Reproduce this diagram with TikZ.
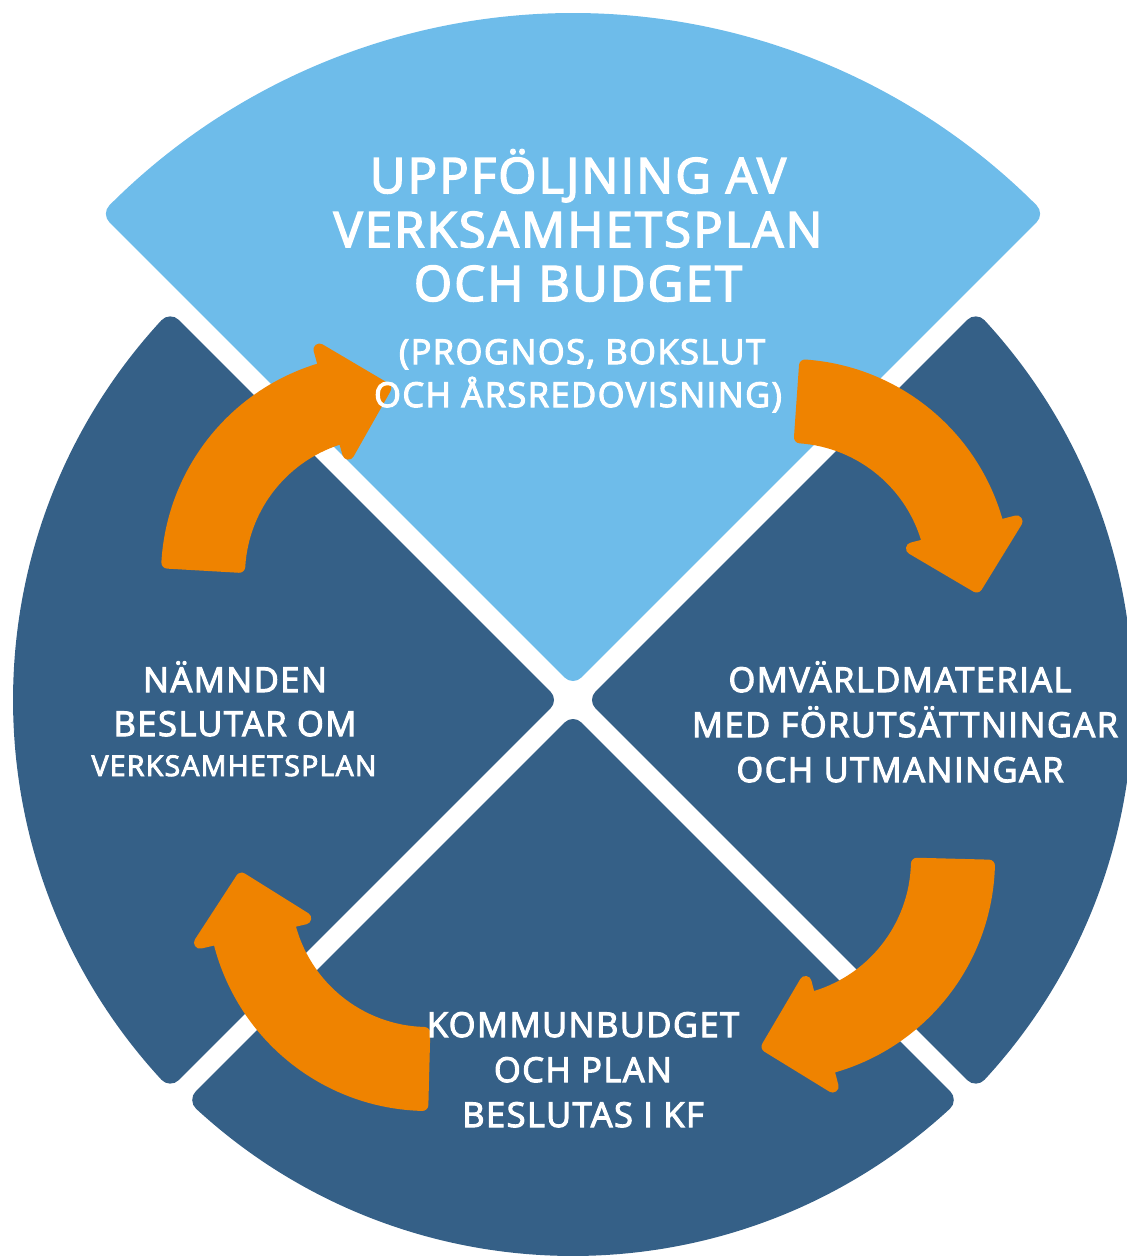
\documentclass[tikz,border=0pt]{standalone}
\usepackage{fontspec}
\usepackage{tikz}
\usetikzlibrary{calc}
\setmainfont{Open Sans}
\newfontfamily\labfont{Open Sans}[LetterSpace=4.5, FakeBold=3.2]
\definecolor{lightsky}{RGB}{110,188,234}
\definecolor{darksea}{RGB}{53,96,135}
\definecolor{turnorange}{RGB}{239,131,0}
\tikzstyle{lab}=[text=white, anchor=base, inner sep=0pt, font=\labfont\fontsize{9.76}{12}\selectfont]
\tikzstyle{biglab}=[lab, font=\labfont\fontsize{13.9}{16}\selectfont]
\tikzstyle{smalllab}=[lab, font=\labfont\fontsize{8.1}{10}\selectfont]
% #1 colour, #2 bisector, #3 shift of arc centre, #4 radius
\newcommand{\wedgePiece}[4]{
	\pgfmathsetmacro\gapw{0.22}
	\pgfmathsetmacro\radw{(#4-12)/100}
	\pgfmathsetmacro\radp{#4-12}
	\pgfmathsetmacro\ew{#3/100}
	\pgfmathsetmacro\sdist{(sqrt(2)*\ew+sqrt(2*\ew*\ew-4*(\gapw*\gapw+\ew*\ew-sqrt(2)*\gapw*\ew-\radw*\radw)))/2}
	\pgfmathsetmacro\dang{atan2((\sdist-\gapw)/sqrt(2),(\sdist+\gapw)/sqrt(2)-\ew)}
	\filldraw[fill=#1, draw=#1, line width=0.24cm, line join=round]
		($(c)+(#2:31)$) -- ($(c)+(#2:#3)+(#2+\dang:\radp)$)
		arc[start angle=#2+\dang, end angle=#2-\dang, radius=\radp] -- cycle;
}
% #1,#2 centre, #3 tail angle, #4 head angle
\newcommand{\turnArrow}[4]{
	\filldraw[fill=turnorange, draw=turnorange, line width=0.12cm, line join=round]
		($(#1,#2)+(#3-2:215)$) arc[start angle=#3-2, end angle=#4, radius=215]
		-- ($(#1,#2)+(#4:234)$) -- ($(#1,#2)+(#4:179)+(#4-90:53)$)
		-- ($(#1,#2)+(#4:126)$) -- ($(#1,#2)+(#4:143)$)
		arc[start angle=#4, end angle=#3-2, radius=143] -- cycle;
}

\begin{document}
\begin{tikzpicture}[x=0.01cm, y=0.01cm]
	\useasboundingbox (0,0) rectangle (1126,-1257);
	\coordinate (c) at (573,-700);
	%
	\wedgePiece{lightsky}{90}{32}{655}
	\wedgePiece{darksea}{0}{0}{560}
	\wedgePiece{darksea}{-90}{0}{556}
	\wedgePiece{darksea}{180}{0}{560}
	%
	\turnArrow{382}{-575}{178.7}{105.5}
	\turnArrow{790}{-580}{88}{14.5}
	\turnArrow{774}{-860}{0.5}{-75.5}
	\turnArrow{428}{-890}{-89.5}{-167}
	%
	\node[biglab] (up1) at (578,-193) {UPPFÖLJNING AV};
	\node[biglab] (up2) at (578,-247) {VERKSAMHETSPLAN};
	\node[biglab] (up3) at (578,-301) {OCH BUDGET};
	\node[lab] (up4) at (582,-364) {(PROGNOS, BOKSLUT};
	\node[lab] (up5) at (578,-407) {OCH ÅRSREDOVISNING)};
	%
	\node[lab] (left1) at (235,-692) {NÄMNDEN};
	\node[lab] (left2) at (235,-736) {BESLUTAR OM};
	\node[smalllab] (left3) at (234,-776) {VERKSAMHETSPLAN};
	%
	\node[lab] (right1) at (900,-692) {OMVÄRLDMATERIAL};
	\node[lab] (right2) at (905,-737) {MED FÖRUTSÄTTNINGAR};
	\node[lab] (right3) at (900,-782) {OCH UTMANINGAR};
	%
	\node[lab] (down1) at (583,-1037) {KOMMUNBUDGET};
	\node[lab] (down2) at (583,-1082) {OCH PLAN};
	\node[lab] (down3) at (583,-1127) {BESLUTAS I KF};
\end{tikzpicture}
\end{document}
